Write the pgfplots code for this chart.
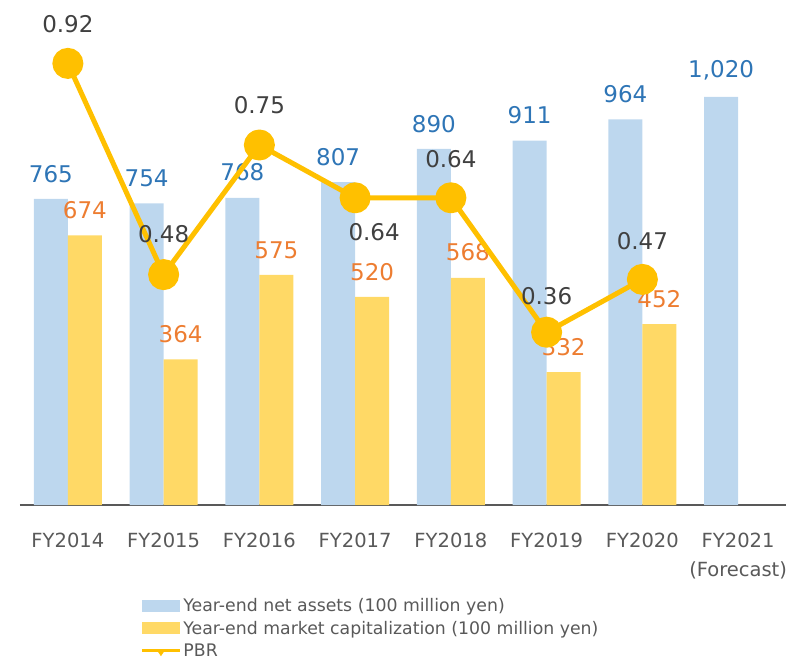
\documentclass[border=0pt]{standalone}
\usepackage{pgfplots}
\pgfplotsset{compat=1.18}
\usepackage{pgfplotstable}
\usepackage{fontspec}
\setmainfont{DejaVu Sans}
\definecolor{cblue}{HTML}{BDD7EE}
\definecolor{cyel}{HTML}{FFD966}
\definecolor{cline}{HTML}{FFC000}
\definecolor{tblue}{HTML}{2E75B6}
\definecolor{torange}{HTML}{ED7D31}
\definecolor{tgray}{HTML}{404040}
\definecolor{agray}{HTML}{595959}
\pgfplotsset{/pgf/number format/.cd, 1000 sep={,}, assume math mode=true}

\pgfplotstableread{
x net
0 765
1 754
2 768
3 807
4 890
5 911
6 964
7 1020
}\netassets

\pgfplotstableread{
x cap
0 674
1 364
2 575
3 520
4 568
5 332
6 452
}\marketcap

\pgfplotstableread{
x pbr dy dx
0 0.92 39 0
1 0.48 40 0
2 0.75 40 0
3 0.64 -34 19
4 0.64 39 0
5 0.36 36 0
6 0.47 38 0
}\pbrtable

\begin{document}
\begin{tikzpicture}
\path[use as bounding box] (-20pt,-159pt) rectangle (773pt,505pt);
\begin{axis}[
  at={(0pt,0pt)}, anchor=south west,
  scale only axis, width=766pt, height=480pt,
  xmin=-0.5, xmax=7.5, ymin=0, ymax=1200,
  axis x line*=bottom, axis y line=none,
  x axis line style={draw=agray, line width=1.5pt},
  clip=false,
  xtick={0,...,7},
  xticklabels={FY2014,FY2015,FY2016,FY2017,FY2018,FY2019,FY2020,{FY2021\\(Forecast)}},
  major tick length=0pt,
  xticklabel style={align=center, text=agray, font=\fontsize{19.5}{29}\selectfont, yshift=-24pt},
  legend style={at={(axis description cs:0.157,-0.19)}, anchor=north west, draw=none, fill=none,
    font=\fontsize{17.3}{19}\selectfont, text=agray, row sep=4pt, inner sep=0pt},
  legend cell align=left,
]
\addplot[ybar, bar width=34pt, bar shift=-17pt, fill=cblue, draw=none,
  nodes near coords,
  every node near coord/.append style={anchor=south, text=tblue, font=\fontsize{23}{27}\selectfont, yshift=13pt, xshift=-17pt},
  legend image code/.code={\fill[cblue] (0pt,-6pt) rectangle (38pt,6pt);}]
  table[x=x, y=net] {\netassets};
\addlegendentry{Year-end net assets (100 million yen)}
\addplot[ybar, bar width=34pt, bar shift=17pt, fill=cyel, draw=none,
  nodes near coords,
  every node near coord/.append style={anchor=south, text=torange, font=\fontsize{23}{27}\selectfont, yshift=13pt, xshift=17pt},
  legend image code/.code={\fill[cyel] (0pt,-6pt) rectangle (38pt,6pt);}]
  table[x=x, y=cap] {\marketcap};
\addlegendentry{Year-end market capitalization (100 million yen)}
\addlegendimage{legend image code/.code={\draw[cline, line width=3pt] (0pt,0pt) -- (38pt,0pt); \fill[cline] (19pt,-5pt) -- (15pt,1pt) -- (23pt,1pt) -- cycle;}}
\addlegendentry{PBR}
\end{axis}
\begin{axis}[
  at={(0pt,0pt)}, anchor=south west,
  scale only axis, width=766pt, height=480pt,
  xmin=-0.5, xmax=7.5, ymin=0, ymax=1,
  hide axis, clip=false,
]
\addplot[cline, line width=5pt, line join=round, mark=*, mark size=13pt,
  mark options={solid, fill=cline, draw=none},
  visualization depends on={\thisrow{dy} \as \dy},
  visualization depends on={\thisrow{dx} \as \dx},
  nodes near coords,
  every node near coord/.append style={anchor=center, text=tgray, font=\fontsize{23}{27}\selectfont, yshift=\dy pt, xshift=\dx pt}]
  table[x=x, y=pbr] {\pbrtable};
\end{axis}
\end{tikzpicture}
\end{document}
